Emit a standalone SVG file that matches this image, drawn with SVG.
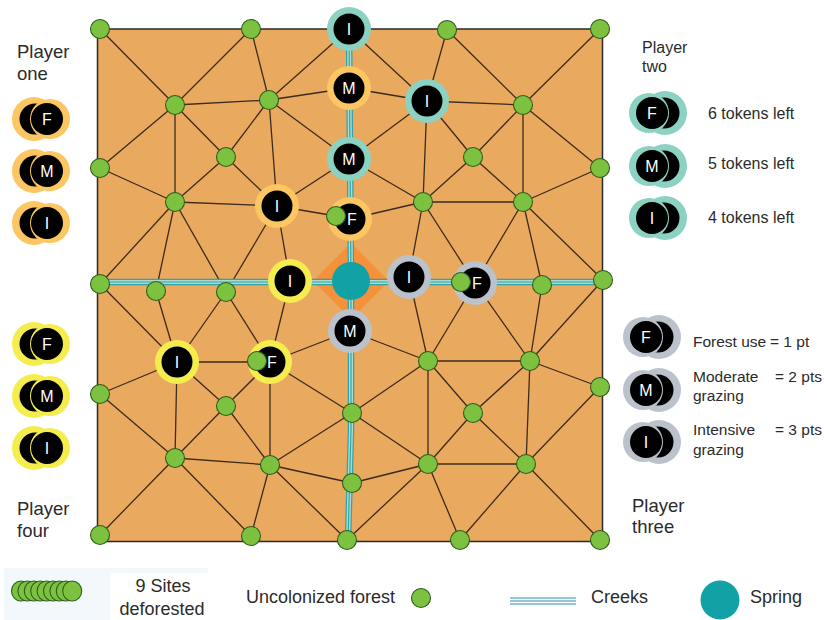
<svg xmlns="http://www.w3.org/2000/svg" width="824" height="620" viewBox="0 0 824 620">
  <style>
    text { font-family: "Liberation Sans", Arial, sans-serif; fill: #2b2b2b; }
    .lbl18 { font-size: 18.5px; }
    .lbl16 { font-size: 16px; }
    .key { font-size: 15.5px; }
    .leg { font-size: 18px; }
    .tl { font-size: 16px; fill: #ffffff; text-anchor: middle; }
    .board { fill: #E9A95F; stroke: #2a2a2a; stroke-width: 1.5; }
    #links line { stroke: #3d2b1c; stroke-width: 1.3; }
    .site { fill: #7DC141; stroke: #2F5E1B; stroke-width: 1.1; }
    .core { fill: #000000; }
    .p1 { fill: #FCC662; }
    .p2 { fill: #8CD2C2; }
    .p3 { fill: #BCC2CC; }
    .p4 { fill: #F5ED4E; }
    .creekBase { fill: none; stroke: #35A3A6; stroke-width: 6.5; }
    .creekLight { fill: none; stroke: #A8DCD3; stroke-width: 4; }
    .creekMid { fill: none; stroke: #35A3A6; stroke-width: 1.2; }
    .spring { fill: #12A2A6; }
    .glow { fill: #F4913A; }
  </style>

  <!-- board -->
  <rect class="board" x="97.5" y="29" width="505" height="512.5"/>

  <!-- connectors between sites -->
  <g id="links">
    <line x1="100" y1="29" x2="175" y2="105"/>
    <line x1="251" y1="29" x2="175" y2="105"/>
    <line x1="251" y1="29" x2="269" y2="100"/>
    <line x1="175" y1="105" x2="269" y2="100"/>
    <line x1="175" y1="105" x2="100" y2="168"/>
    <line x1="175" y1="105" x2="226" y2="157"/>
    <line x1="175" y1="105" x2="175" y2="202"/>
    <line x1="269" y1="100" x2="226" y2="157"/>
    <line x1="269" y1="100" x2="277" y2="206"/>
    <line x1="269" y1="100" x2="349" y2="29"/>
    <line x1="269" y1="100" x2="349" y2="88"/>
    <line x1="269" y1="100" x2="349" y2="159"/>
    <line x1="100" y1="168" x2="175" y2="202"/>
    <line x1="226" y1="157" x2="175" y2="202"/>
    <line x1="226" y1="157" x2="277" y2="206"/>
    <line x1="175" y1="202" x2="277" y2="206"/>
    <line x1="277" y1="206" x2="349" y2="159"/>
    <line x1="277" y1="206" x2="336" y2="216"/>
    <line x1="349" y1="29" x2="427" y2="101"/>
    <line x1="349" y1="88" x2="427" y2="101"/>
    <line x1="447" y1="30" x2="427" y2="101"/>
    <line x1="447" y1="30" x2="523" y2="105"/>
    <line x1="427" y1="101" x2="523" y2="105"/>
    <line x1="427" y1="101" x2="349" y2="159"/>
    <line x1="427" y1="101" x2="473" y2="157"/>
    <line x1="427" y1="101" x2="423" y2="202"/>
    <line x1="473" y1="157" x2="523" y2="105"/>
    <line x1="473" y1="157" x2="423" y2="202"/>
    <line x1="473" y1="157" x2="523" y2="202"/>
    <line x1="523" y1="105" x2="523" y2="202"/>
    <line x1="349" y1="159" x2="423" y2="202"/>
    <line x1="350" y1="219" x2="423" y2="202"/>
    <line x1="423" y1="202" x2="523" y2="202"/>
    <line x1="600" y1="29" x2="523" y2="105"/>
    <line x1="523" y1="105" x2="600" y2="168"/>
    <line x1="600" y1="168" x2="523" y2="202"/>
    <line x1="423" y1="202" x2="409" y2="277"/>
    <line x1="423" y1="202" x2="475" y2="283"/>
    <line x1="523" y1="202" x2="475" y2="283"/>
    <line x1="523" y1="202" x2="542" y2="285"/>
    <line x1="523" y1="202" x2="603" y2="280"/>
    <line x1="100" y1="284" x2="175" y2="202"/>
    <line x1="100" y1="284" x2="177" y2="362"/>
    <line x1="156" y1="291" x2="175" y2="202"/>
    <line x1="156" y1="291" x2="177" y2="362"/>
    <line x1="226" y1="292" x2="175" y2="202"/>
    <line x1="226" y1="292" x2="277" y2="206"/>
    <line x1="226" y1="292" x2="177" y2="362"/>
    <line x1="226" y1="292" x2="270" y2="362"/>
    <line x1="290" y1="281" x2="277" y2="206"/>
    <line x1="290" y1="281" x2="270" y2="362"/>
    <line x1="177" y1="362" x2="270" y2="362"/>
    <line x1="177" y1="362" x2="100" y2="394"/>
    <line x1="177" y1="362" x2="226" y2="406"/>
    <line x1="177" y1="362" x2="175" y2="458"/>
    <line x1="270" y1="362" x2="226" y2="406"/>
    <line x1="270" y1="362" x2="270" y2="465"/>
    <line x1="270" y1="362" x2="350" y2="331"/>
    <line x1="270" y1="362" x2="352" y2="413"/>
    <line x1="350" y1="331" x2="428" y2="361"/>
    <line x1="409" y1="277" x2="428" y2="361"/>
    <line x1="475" y1="283" x2="428" y2="361"/>
    <line x1="475" y1="283" x2="530" y2="361"/>
    <line x1="542" y1="285" x2="530" y2="361"/>
    <line x1="603" y1="280" x2="530" y2="361"/>
    <line x1="428" y1="361" x2="530" y2="361"/>
    <line x1="428" y1="361" x2="473" y2="413"/>
    <line x1="428" y1="361" x2="428" y2="464"/>
    <line x1="428" y1="361" x2="352" y2="413"/>
    <line x1="352" y1="413" x2="428" y2="464"/>
    <line x1="352" y1="413" x2="270" y2="465"/>
    <line x1="473" y1="413" x2="530" y2="361"/>
    <line x1="473" y1="413" x2="428" y2="464"/>
    <line x1="473" y1="413" x2="526" y2="464"/>
    <line x1="530" y1="361" x2="526" y2="464"/>
    <line x1="530" y1="361" x2="600" y2="387"/>
    <line x1="352" y1="483" x2="270" y2="465"/>
    <line x1="352" y1="483" x2="428" y2="464"/>
    <line x1="270" y1="465" x2="347" y2="540"/>
    <line x1="428" y1="464" x2="347" y2="540"/>
    <line x1="428" y1="464" x2="460" y2="540"/>
    <line x1="526" y1="464" x2="460" y2="540"/>
    <line x1="428" y1="464" x2="526" y2="464"/>
    <line x1="600" y1="387" x2="526" y2="464"/>
    <line x1="600" y1="540" x2="526" y2="464"/>
    <line x1="100" y1="394" x2="175" y2="458"/>
    <line x1="226" y1="406" x2="175" y2="458"/>
    <line x1="226" y1="406" x2="270" y2="465"/>
    <line x1="175" y1="458" x2="270" y2="465"/>
    <line x1="175" y1="458" x2="100" y2="535"/>
    <line x1="175" y1="458" x2="251" y2="536"/>
    <line x1="270" y1="465" x2="251" y2="536"/>
  </g>

  <!-- spring glow, creeks and spring -->
  <g id="spring-glow">
    <polygon class="glow" points="351,243 389,281 351,319 313,281"/>
  </g>
  <g id="creeks">
    <polyline class="creekBase" points="349,29 351,281 351,430 348,540"/>
    <polyline class="creekLight" points="349,29 351,281 351,430 348,540"/>
    <polyline class="creekMid" points="349,29 351,281 351,430 348,540"/>
    <line class="creekBase" x1="100" y1="282" x2="603" y2="282"/>
    <line class="creekLight" x1="100" y1="282" x2="603" y2="282"/>
    <line class="creekMid" x1="100" y1="282" x2="603" y2="282"/>
  </g>
  <g id="spring">
    <circle class="spring" cx="351" cy="281" r="19"/>
  </g>

  <!-- uncolonized forest sites -->
  <g id="sites">
    <circle id="s-a1" class="site" cx="100" cy="29" r="9.5"/>
    <circle id="s-a2" class="site" cx="251" cy="29" r="9.5"/>
    <circle id="s-a4" class="site" cx="447" cy="30" r="9.5"/>
    <circle id="s-a5" class="site" cx="600" cy="29" r="9.5"/>
    <circle id="s-b1" class="site" cx="175" cy="105" r="9.5"/>
    <circle id="s-b2" class="site" cx="269" cy="100" r="9.5"/>
    <circle id="s-b5" class="site" cx="523" cy="105" r="9.5"/>
    <circle id="s-c1" class="site" cx="100" cy="168" r="9.5"/>
    <circle id="s-c2" class="site" cx="226" cy="157" r="9.5"/>
    <circle id="s-c4" class="site" cx="473" cy="157" r="9.5"/>
    <circle id="s-c5" class="site" cx="600" cy="168" r="9.5"/>
    <circle id="s-d1" class="site" cx="175" cy="202" r="9.5"/>
    <circle id="s-d4" class="site" cx="423" cy="202" r="9.5"/>
    <circle id="s-d5" class="site" cx="523" cy="202" r="9.5"/>
    <circle id="s-e1" class="site" cx="100" cy="284" r="9.5"/>
    <circle id="s-e2" class="site" cx="156" cy="291" r="9.5"/>
    <circle id="s-e3" class="site" cx="226" cy="292" r="9.5"/>
    <circle id="s-e8" class="site" cx="542" cy="285" r="9.5"/>
    <circle id="s-e9" class="site" cx="603" cy="280" r="9.5"/>
    <circle id="s-f4" class="site" cx="428" cy="361" r="9.5"/>
    <circle id="s-f5" class="site" cx="530" cy="361" r="9.5"/>
    <circle id="s-g1" class="site" cx="100" cy="394" r="9.5"/>
    <circle id="s-g2" class="site" cx="226" cy="406" r="9.5"/>
    <circle id="s-g3" class="site" cx="352" cy="413" r="9.5"/>
    <circle id="s-g4" class="site" cx="473" cy="413" r="9.5"/>
    <circle id="s-g5" class="site" cx="600" cy="387" r="9.5"/>
    <circle id="s-h1" class="site" cx="175" cy="458" r="9.5"/>
    <circle id="s-h2" class="site" cx="270" cy="465" r="9.5"/>
    <circle id="s-h3" class="site" cx="352" cy="483" r="9.5"/>
    <circle id="s-h4" class="site" cx="428" cy="464" r="9.5"/>
    <circle id="s-h5" class="site" cx="526" cy="464" r="9.5"/>
    <circle id="s-i1" class="site" cx="100" cy="535" r="9.5"/>
    <circle id="s-i2" class="site" cx="251" cy="536" r="9.5"/>
    <circle id="s-i3" class="site" cx="347" cy="540" r="9.5"/>
    <circle id="s-i4" class="site" cx="460" cy="540" r="9.5"/>
    <circle id="s-i5" class="site" cx="600" cy="540" r="9.5"/>
  </g>

  <!-- tokens placed on the board -->
  <g id="tok-a3">
    <circle class="p2" cx="349" cy="29" r="22"/><circle class="core" cx="349" cy="29" r="15.5"/>
    <text class="tl" x="349" y="34.8">I</text>
  </g>
  <g id="tok-b3">
    <circle class="p1" cx="349" cy="88" r="22"/><circle class="core" cx="349" cy="88" r="15.5"/>
    <text class="tl" x="349" y="93.8">M</text>
  </g>
  <g id="tok-b4">
    <circle class="p2" cx="427" cy="101" r="22"/><circle class="core" cx="427" cy="101" r="15.5"/>
    <text class="tl" x="427" y="106.8">I</text>
  </g>
  <g id="tok-c3">
    <circle class="p2" cx="349" cy="159" r="22"/><circle class="core" cx="349" cy="159" r="15.5"/>
    <text class="tl" x="349" y="164.8">M</text>
  </g>
  <g id="tok-d2">
    <circle class="p1" cx="277" cy="206" r="22"/><circle class="core" cx="277" cy="206" r="15.5"/>
    <text class="tl" x="277" y="211.8">I</text>
  </g>
  <g id="tok-d3">
    <circle class="p1" cx="350" cy="219" r="22"/><circle class="core" cx="350" cy="219" r="15.5"/>
    <text class="tl" x="352" y="224.8">F</text>
    <circle class="site" cx="336" cy="216" r="9.5"/>
  </g>
  <g id="tok-e4">
    <circle class="p4" cx="290" cy="281" r="22"/><circle class="core" cx="290" cy="281" r="15.5"/>
    <text class="tl" x="290" y="286.8">I</text>
  </g>
  <g id="tok-e6">
    <circle class="p3" cx="409" cy="277" r="22"/><circle class="core" cx="409" cy="277" r="15.5"/>
    <text class="tl" x="409" y="282.8">I</text>
  </g>
  <g id="tok-e7">
    <circle class="p3" cx="475" cy="283" r="22"/><circle class="core" cx="475" cy="283" r="15.5"/>
    <text class="tl" x="477" y="288.8">F</text>
    <circle class="site" cx="461" cy="282" r="9.5"/>
  </g>
  <g id="tok-f1">
    <circle class="p4" cx="177" cy="362" r="22"/><circle class="core" cx="177" cy="362" r="15.5"/>
    <text class="tl" x="177" y="367.8">I</text>
  </g>
  <g id="tok-f2">
    <circle class="p4" cx="270" cy="362" r="22"/><circle class="core" cx="270" cy="362" r="15.5"/>
    <text class="tl" x="272" y="367.8">F</text>
    <circle class="site" cx="257" cy="361" r="9.5"/>
  </g>
  <g id="tok-f3">
    <circle class="p3" cx="350" cy="331" r="22"/><circle class="core" cx="350" cy="331" r="15.5"/>
    <text class="tl" x="350" y="336.8">M</text>
  </g>

  <!-- player one supply -->
  <g id="p1-F">
    <circle class="p1" cx="34" cy="119" r="22"/><circle class="core" cx="35" cy="119" r="15.5"/>
    <circle class="p1" cx="50" cy="119" r="20"/><circle class="core" cx="47" cy="119" r="16"/>
    <text class="tl" x="47" y="124.8">F</text>
  </g>
  <g id="p1-M">
    <circle class="p1" cx="34" cy="171" r="22"/><circle class="core" cx="35" cy="171" r="15.5"/>
    <circle class="p1" cx="50" cy="171" r="20"/><circle class="core" cx="47" cy="171" r="16"/>
    <text class="tl" x="47" y="176.8">M</text>
  </g>
  <g id="p1-I">
    <circle class="p1" cx="34" cy="223" r="22"/><circle class="core" cx="35" cy="223" r="15.5"/>
    <circle class="p1" cx="50" cy="223" r="20"/><circle class="core" cx="47" cy="223" r="16"/>
    <text class="tl" x="47" y="228.8">I</text>
  </g>

  <!-- player four supply -->
  <g id="p4-F">
    <circle class="p4" cx="34" cy="344" r="22"/><circle class="core" cx="35" cy="344" r="15.5"/>
    <circle class="p4" cx="50" cy="344" r="20"/><circle class="core" cx="47" cy="344" r="16"/>
    <text class="tl" x="47" y="349.8">F</text>
  </g>
  <g id="p4-M">
    <circle class="p4" cx="34" cy="396" r="22"/><circle class="core" cx="35" cy="396" r="15.5"/>
    <circle class="p4" cx="50" cy="396" r="20"/><circle class="core" cx="47" cy="396" r="16"/>
    <text class="tl" x="47" y="401.8">M</text>
  </g>
  <g id="p4-I">
    <circle class="p4" cx="34" cy="448" r="22"/><circle class="core" cx="35" cy="448" r="15.5"/>
    <circle class="p4" cx="50" cy="448" r="20"/><circle class="core" cx="47" cy="448" r="16"/>
    <text class="tl" x="47" y="453.8">I</text>
  </g>

  <!-- player two supply -->
  <g id="p2-F">
    <circle class="p2" cx="665" cy="113" r="22"/><circle class="core" cx="664" cy="113" r="15.5"/>
    <circle class="p2" cx="649" cy="113" r="20"/><circle class="core" cx="652" cy="113" r="16"/>
    <text class="tl" x="652" y="118.8">F</text>
  </g>
  <g id="p2-M">
    <circle class="p2" cx="665" cy="166" r="22"/><circle class="core" cx="664" cy="166" r="15.5"/>
    <circle class="p2" cx="649" cy="166" r="20"/><circle class="core" cx="652" cy="166" r="16"/>
    <text class="tl" x="652" y="171.8">M</text>
  </g>
  <g id="p2-I">
    <circle class="p2" cx="665" cy="218" r="22"/><circle class="core" cx="664" cy="218" r="15.5"/>
    <circle class="p2" cx="649" cy="218" r="20"/><circle class="core" cx="652" cy="218" r="16"/>
    <text class="tl" x="652" y="223.8">I</text>
  </g>

  <!-- player three supply / scoring key -->
  <g id="p3-F">
    <circle class="p3" cx="659" cy="337" r="22"/><circle class="core" cx="658" cy="337" r="15.5"/>
    <circle class="p3" cx="643" cy="337" r="20"/><circle class="core" cx="646" cy="337" r="16"/>
    <text class="tl" x="646" y="342.8">F</text>
  </g>
  <g id="p3-M">
    <circle class="p3" cx="659" cy="390" r="22"/><circle class="core" cx="658" cy="390" r="15.5"/>
    <circle class="p3" cx="643" cy="390" r="20"/><circle class="core" cx="646" cy="390" r="16"/>
    <text class="tl" x="646" y="395.8">M</text>
  </g>
  <g id="p3-I">
    <circle class="p3" cx="659" cy="442" r="22"/><circle class="core" cx="658" cy="442" r="15.5"/>
    <circle class="p3" cx="643" cy="442" r="20"/><circle class="core" cx="646" cy="442" r="16"/>
    <text class="tl" x="646" y="447.8">I</text>
  </g>

  <!-- player labels and scoring key -->
  <g id="labels">
    <text class="lbl18" x="17" y="58">Player</text>
    <text class="lbl18" x="17" y="80">one</text>
    <text class="lbl16" x="642" y="53">Player</text>
    <text class="lbl16" x="642" y="72">two</text>
    <text class="lbl16" x="708" y="119">6 tokens left</text>
    <text class="lbl16" x="708" y="169">5 tokens left</text>
    <text class="lbl16" x="708" y="223">4 tokens left</text>
    <text class="key" x="693" y="347">Forest use</text>
    <text class="key" x="770" y="347">= 1 pt</text>
    <text class="key" x="693" y="382">Moderate</text>
    <text class="key" x="775" y="382">= 2 pts</text>
    <text class="key" x="693" y="401">grazing</text>
    <text class="key" x="693" y="435">Intensive</text>
    <text class="key" x="775" y="435">= 3 pts</text>
    <text class="key" x="693" y="455">grazing</text>
    <text class="lbl18" x="632" y="512">Player</text>
    <text class="lbl18" x="632" y="533">three</text>
    <text class="lbl18" x="17" y="515">Player</text>
    <text class="lbl18" x="17" y="537">four</text>
  </g>

  <!-- legend -->
  <g id="legend-deforested">
    <rect x="4" y="568" width="204" height="52" fill="#F2F8FB"/>
    <rect x="110" y="573" width="98" height="47" fill="#ffffff"/>
    <ellipse class="site" cx="21" cy="591" rx="9.5" ry="10"/>
    <ellipse class="site" cx="27.4" cy="591" rx="9.5" ry="10"/>
    <ellipse class="site" cx="33.8" cy="591" rx="9.5" ry="10"/>
    <ellipse class="site" cx="40.2" cy="591" rx="9.5" ry="10"/>
    <ellipse class="site" cx="46.6" cy="591" rx="9.5" ry="10"/>
    <ellipse class="site" cx="53" cy="591" rx="9.5" ry="10"/>
    <ellipse class="site" cx="59.4" cy="591" rx="9.5" ry="10"/>
    <ellipse class="site" cx="65.8" cy="591" rx="9.5" ry="10"/>
    <ellipse class="site" cx="72.2" cy="591" rx="9.5" ry="10"/>
    <text class="leg" x="163" y="592" text-anchor="middle">9 Sites</text>
    <text class="leg" x="162" y="615" text-anchor="middle">deforested</text>
  </g>
  <g id="legend-forest">
    <text class="leg" x="246" y="603">Uncolonized forest</text>
    <circle class="site" cx="421" cy="598" r="9.5"/>
  </g>
  <g id="legend-creeks">
    <line x1="510" y1="598" x2="576" y2="598" stroke="#6FB6C8" stroke-width="1.4"/>
    <line x1="510" y1="601" x2="576" y2="601" stroke="#6FB6C8" stroke-width="1.4"/>
    <line x1="510" y1="604" x2="576" y2="604" stroke="#6FB6C8" stroke-width="1.4"/>
    <text class="leg" x="591" y="603">Creeks</text>
  </g>
  <g id="legend-spring">
    <circle class="spring" cx="720" cy="600" r="19.5"/>
    <text class="leg" x="750" y="603">Spring</text>
  </g>
</svg>
